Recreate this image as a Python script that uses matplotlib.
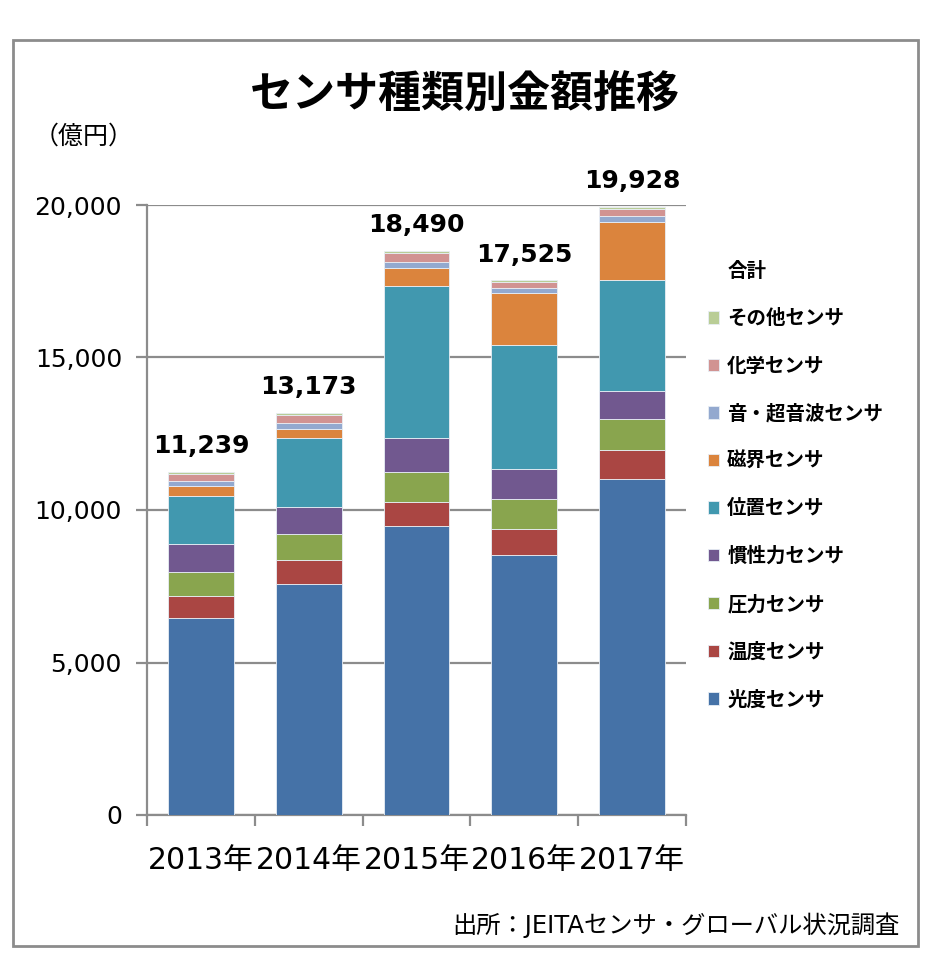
import numpy as np
import matplotlib
matplotlib.use('Agg')
from matplotlib import pyplot as plt
from matplotlib.patches import Rectangle

plt.rcParams['font.family'] = ['DejaVu Sans', 'Noto Sans CJK JP']

# data (億円)
years = ['2013年', '2014年', '2015年', '2016年', '2017年']
totals = [11239, 13173, 18490, 17525, 19928]
names = ['光度センサ', '温度センサ', '圧力センサ', '慣性力センサ', '位置センサ',
         '磁界センサ', '音・超音波センサ', '化学センサ', 'その他センサ']
kodo = [6460, 7575, 9475, 8525, 11015]
ondo = [720, 785, 785, 850, 950]
atsuryoku = [790, 850, 985, 985, 1015]
kansei = [920, 885, 1115, 985, 920]
ichi = [1575, 2265, 4985, 4065, 3640]
jikai = [330, 295, 590, 1705, 1900]
onpa = [165, 195, 195, 165, 195]
kagaku = [230, 265, 295, 195, 230]
sonota = [49, 58, 65, 50, 63]
series = [kodo, ondo, atsuryoku, kansei, ichi, jikai, onpa, kagaku, sonota]
colors = ['#4572A7', '#AA4643', '#89A54E', '#71588F', '#4198AF',
          '#DB843D', '#93A9CF', '#D19392', '#B9CD96']

fig = plt.figure(figsize=(9.4, 9.66), dpi=100)
ax = fig.add_axes([147/940, 1 - 815/966, (686 - 147)/940, (815 - 205)/966])

# outer frame
fig.patches.append(Rectangle((13/940, 1 - 946/966), 905/940, 906/966,
                             transform=fig.transFigure, fill=False,
                             edgecolor='#8c8c8c', lw=2))

x = np.arange(len(years))
bottom = np.zeros(len(years))
handles = []
for vals, c, n in zip(series, colors, names):
    b = ax.bar(x, vals, 0.61, bottom=bottom, color=c, label=n,
               edgecolor='#e8eef5', linewidth=0.6, zorder=3)
    handles.append(b)
    bottom = bottom + np.array(vals)

for i, t in enumerate(totals):
    ax.text(x[i], t + 450, f'{t:,}', ha='center', va='bottom',
            fontsize=18, fontweight='bold', zorder=4)

ax.set_xlim(-0.5, 4.5)
ax.set_ylim(0, 20000)
ax.set_yticks([0, 5000, 10000, 15000, 20000])
ax.set_yticklabels(['0', '5,000', '10,000', '15,000', '20,000'])
ax.yaxis.grid(True, color='#8c8c8c', lw=1.6, zorder=0)
ax.set_axisbelow(True)

ax.set_xticks(np.arange(-0.5, 5, 1.0))
ax.set_xticklabels([])
ax.set_xticks(x, minor=True)
ax.set_xticklabels(years, minor=True, fontsize=21.5)
ax.tick_params(axis='x', which='major', length=8, width=1.6, color='#8c8c8c')
ax.tick_params(axis='x', which='minor', length=0, pad=22)
ax.tick_params(axis='y', length=8, width=1.6, color='#8c8c8c', labelsize=18, pad=10)

for s in ['top', 'right']:
    ax.spines[s].set_visible(False)
for s in ['left', 'bottom']:
    ax.spines[s].set_color('#8c8c8c')
    ax.spines[s].set_linewidth(1.6)

fig.text(465/940, 1 - 95/966, 'センサ種類別金額推移', ha='center', va='center',
         fontsize=31, fontweight='bold')
fig.text(34/940, 1 - 137/966, '（億円）', ha='left', va='center', fontsize=18)
fig.text(900/940, 1 - 925/966, '出所：JEITAセンサ・グローバル状況調査',
         ha='right', va='center', fontsize=17.5)

# legend: invisible entry for 合計 on top, then series in reverse
blank = Rectangle((0, 0), 1, 1, fill=False, edgecolor='none', visible=False)
leg = fig.legend([blank] + handles[::-1], ['合計'] + names[::-1],
                 loc='upper left', bbox_to_anchor=(698/940, 1 - 252/966),
                 frameon=False, borderpad=0, fontsize=14,
                 labelspacing=1.46, handlelength=0.6, handleheight=0.6,
                 handletextpad=0.4)
for t in leg.get_texts():
    t.set_fontweight('bold')

fig.savefig('out.png', dpi=100)
